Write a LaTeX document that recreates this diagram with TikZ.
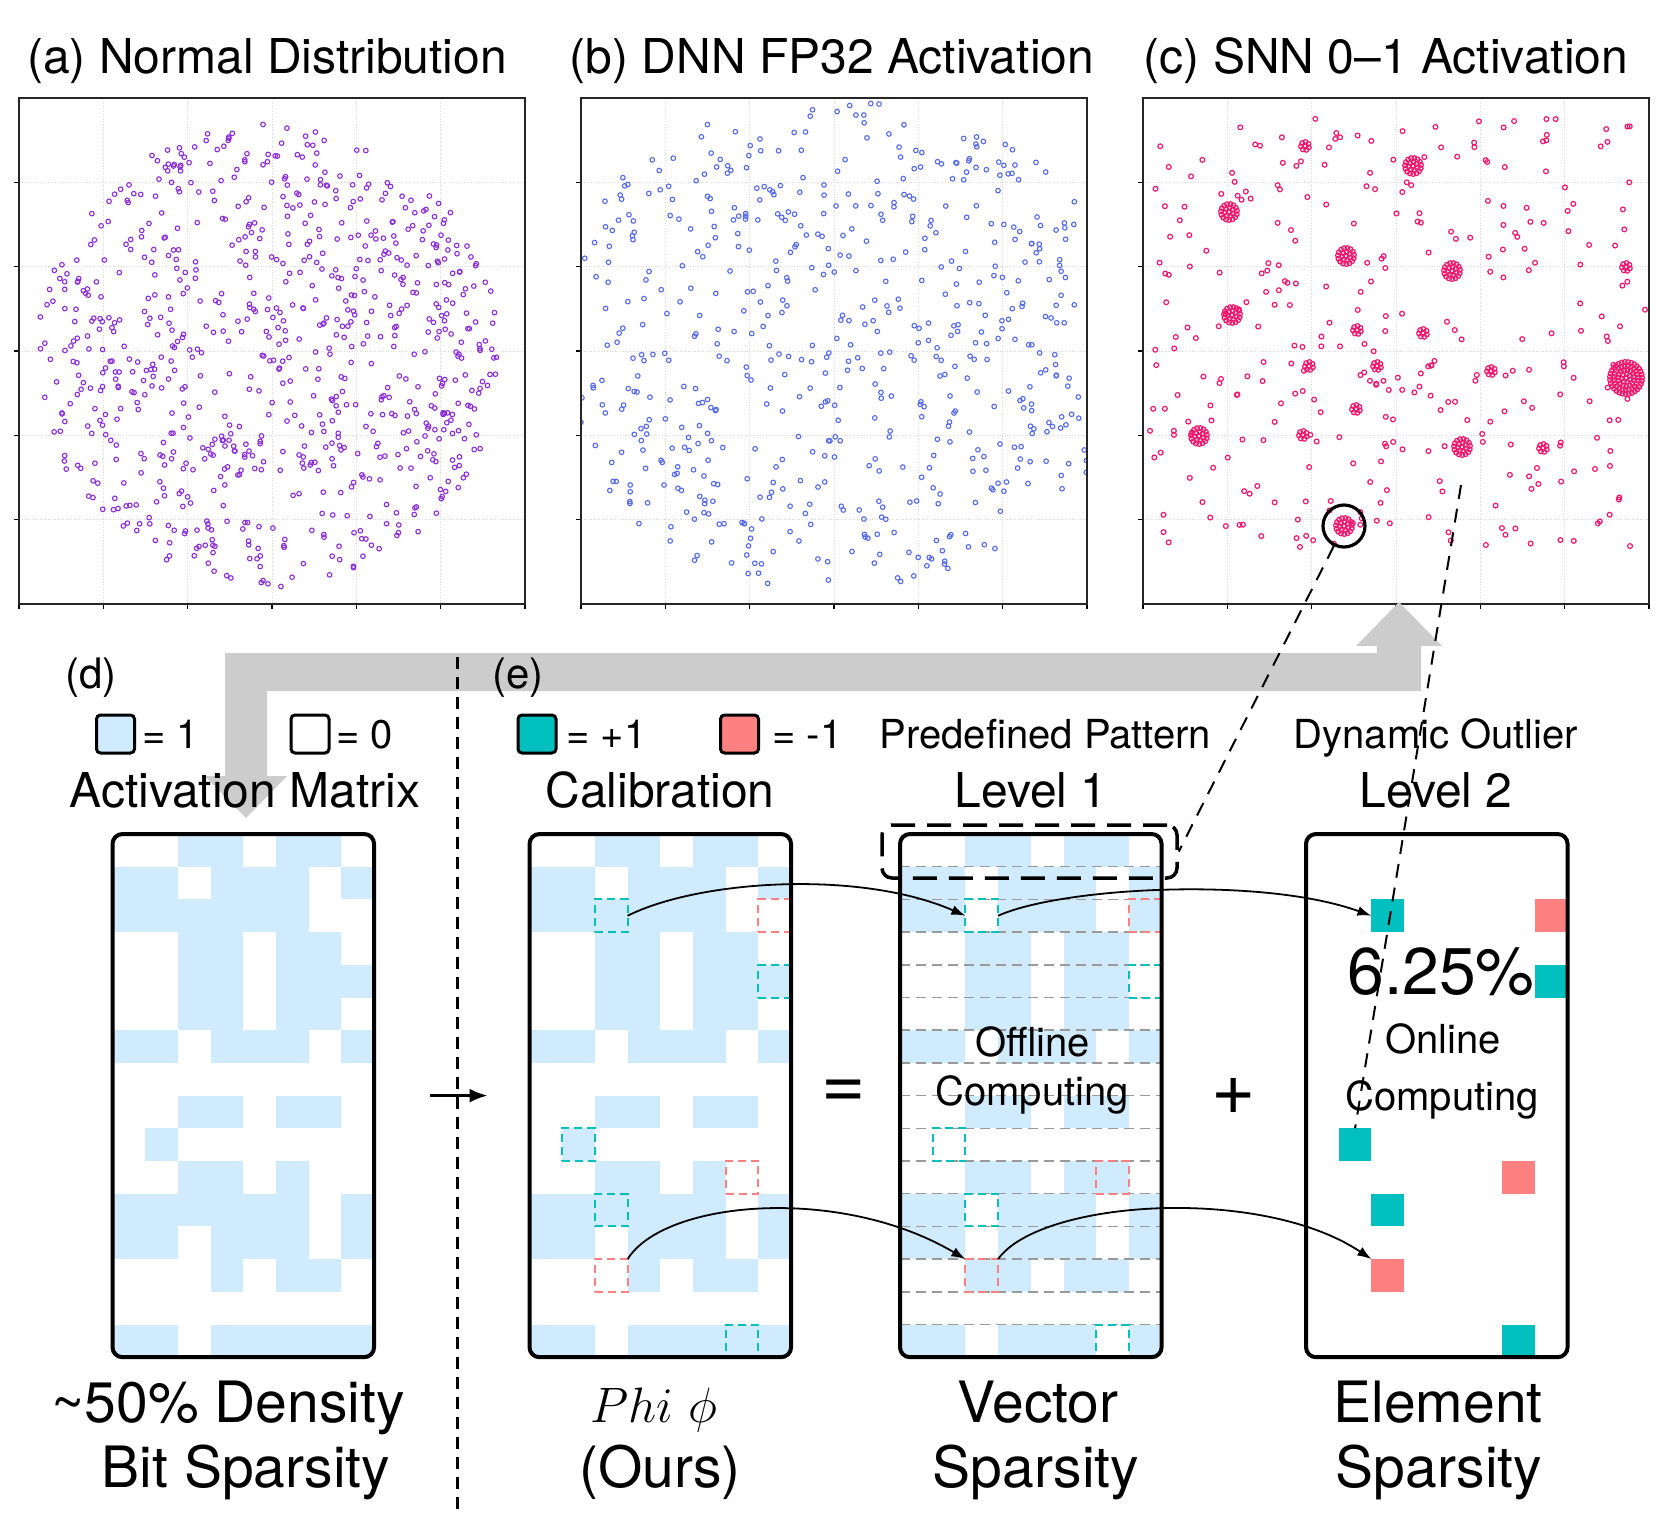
\documentclass[tikz,border=0pt]{standalone}
\usepackage{fontspec}
\setmainfont{TeX Gyre Heros}
\usetikzlibrary{arrows.meta, calc, positioning}

\definecolor{actblue}{RGB}{208,235,253}
\definecolor{poscyan}{RGB}{0,191,191}
\definecolor{negred}{RGB}{255,128,128}
\definecolor{bandgray}{RGB}{204,204,204}
\definecolor{gaussviolet}{RGB}{140,45,220}
\definecolor{dnnblue}{RGB}{85,105,240}
\definecolor{snnpink}{RGB}{240,25,110}

% activation matrix (16 rows x 8 columns) and its predefined row patterns
\newcommand\actrows{{0,0,1,1,0,1,1,0},{1,1,0,1,1,1,0,1},{1,1,1,1,1,1,0,0},{0,0,1,1,0,1,1,0},{0,0,1,1,0,1,1,1},{0,0,1,1,0,1,1,0},{1,1,0,1,1,1,0,1},{0,0,0,0,0,0,0,0},{0,0,1,1,0,1,1,0},{0,1,0,0,0,0,0,0},{0,0,1,1,0,1,0,0},{1,1,1,1,1,1,0,1},{1,1,0,1,1,1,0,1},{0,0,0,1,0,1,1,0},{0,0,0,0,0,0,0,0},{1,1,0,1,1,1,1,1}}
\newcommand\patrows{{0,0,1,1,0,1,1,0},{1,1,0,1,1,1,0,1},{1,1,0,1,1,1,0,1},{0,0,1,1,0,1,1,0},{0,0,1,1,0,1,1,0},{0,0,1,1,0,1,1,0},{1,1,0,1,1,1,0,1},{0,0,0,0,0,0,0,0},{0,0,1,1,0,1,1,0},{0,0,0,0,0,0,0,0},{0,0,1,1,0,1,1,0},{1,1,0,1,1,1,0,1},{1,1,0,1,1,1,0,1},{0,0,1,1,0,1,1,0},{0,0,0,0,0,0,0,0},{1,1,0,1,1,1,0,1}}
\newcommand\outliers{2/2/poscyan, 2/7/negred, 4/7/poscyan, 9/1/poscyan, 10/6/negred, 11/2/poscyan, 13/2/negred, 15/6/poscyan}

\begin{document}
\begin{tikzpicture}[x=0.5pt, y=-0.5pt, >=Latex]
    % Define styles for plots, matrices, cells and texts
    \tikzstyle{plotframe} = [draw=black!85, line width=1pt, minimum size=253pt, inner sep=0pt]
    \tikzstyle{gridline} = [draw=black!15, line width=0.3pt, densely dotted]
    \tikzstyle{gaussdot} = [draw=gaussviolet, line width=0.55pt]
    \tikzstyle{dnndot} = [draw=dnnblue, line width=0.55pt]
    \tikzstyle{snndot} = [draw=snnpink, line width=0.6pt]
    \tikzstyle{actcell} = [fill=actblue]
    \tikzstyle{matframe} = [draw, line width=2pt, rounded corners=5pt, minimum width=130.8pt, minimum height=261.6pt, inner sep=0pt]
    \tikzstyle{dashcell} = [draw, line width=1pt, dash pattern=on 4pt off 2.5pt, minimum size=16.35pt, inner sep=0pt, outer sep=0pt]
    \tikzstyle{fullcell} = [minimum size=16.35pt, inner sep=0pt, outer sep=0pt]
    \tikzstyle{rowsep} = [draw=black!40, line width=0.75pt, dash pattern=on 5pt off 3pt]
    \tikzstyle{legendbox} = [draw, line width=1.5pt, rounded corners=2pt, minimum size=19pt, inner sep=0pt]
    \tikzstyle{link} = [draw, line width=0.9pt, -{Latex[length=7pt, width=5pt]}]
    \tikzstyle{zoomline} = [draw, line width=1pt, dash pattern=on 7pt off 5pt]
    \tikzstyle{title} = [inner sep=0pt, anchor=base, font=\fontsize{24}{28}\selectfont]
    \tikzstyle{smalltext} = [inner sep=0pt, anchor=base, font=\fontsize{20}{24}\selectfont]
    \tikzstyle{bottomtext} = [inner sep=0pt, anchor=base, font=\fontsize{28.5}{33}\selectfont]
    \tikzstyle{bigsign} = [inner sep=0pt, font=\fontsize{38}{40}\selectfont]

    \useasboundingbox (0,0) rectangle (1661,1527);

    % Grid and ticks of the three scatter plots
    \foreach \px in {19, 581, 1143} {
        \foreach \i in {1,...,5} {
            \draw[gridline] ({\px+\i*84.33},98) -- ++(0,506);
            \draw[gridline] (\px,{98+\i*84.33}) -- ++(506,0);
            \draw[line width=0.6pt] (\px,{98+\i*84.33}) -- ++(-5,0);
        }
        \foreach \i in {0,...,6} \draw[line width=0.6pt] ({\px+\i*84.33},604) -- ++(0,5);
    }

    % (a) normal distribution
    \begin{scope}
        \clip (19,98) rectangle (525,604);
        \pgfmathsetseed{17}
        \foreach \idx in {1,...,820} {
            \pgfmathsetmacro{\rdist}{232*sqrt(rnd)}
            \pgfmathsetmacro{\rang}{360*rnd}
            \draw[gaussdot] ({268+\rdist*cos(\rang)},{355+\rdist*sin(\rang)}) circle[radius=1.15pt];
        }
    \end{scope}

    % (b) DNN activation
    \begin{scope}
        \clip (581,98) rectangle (1087,604);
        \pgfmathsetseed{29}
        \foreach \idx in {1,...,650} {
            \pgfmathsetmacro{\rdist}{sqrt(rnd)}
            \pgfmathsetmacro{\rang}{360*rnd}
            \draw[dnndot] ({836+300*\rdist*cos(\rang)},{345+245*\rdist*sin(\rang)}) circle[radius=1.15pt];
        }
    \end{scope}

    % (c) SNN activation: single spikes and repeated clumps
    \begin{scope}
        \clip (1143,98) rectangle (1649,604);
        \pgfmathsetseed{41}
        \foreach \idx in {1,...,320} {
            \pgfmathsetmacro{\ux}{1150+495*rnd}
            \pgfmathsetmacro{\uy}{118+430*rnd}
            \draw[snndot] (\ux,\uy) circle[radius=1.2pt];
        }
        \foreach \cx/\cy/\cl in {1305/146/6, 1413/166/11, 1229/212/8, 1346/256/11, 1452/271/8, 1626/267/5, 1232/315/9, 1357/330/4, 1423/333/5, 1309/366/7, 1377/366/6, 1491/371/7, 1626/378/18, 1356/409/4, 1199/436/11, 1303/435/7, 1462/447/9, 1543/448/5, 1344/526/8} {
            \draw[snndot] (\cx,\cy) circle[radius=1.2pt];
            \pgfmathtruncatemacro{\nring}{\cl/4}
            \foreach \q in {1,...,\nring} {
                \pgfmathtruncatemacro{\nn}{2*pi*4*\q/3.2}
                \foreach \jj in {1,...,\nn} {
                    \draw[snndot] ({\cx+4*\q*cos(360*\jj/\nn+20*\q)},{\cy+4*\q*sin(360*\jj/\nn+20*\q)}) circle[radius=1.2pt];
                }
            }
        }
    \end{scope}

    % Plot frames and titles
    \foreach \px/\pn in {19/a, 581/b, 1143/c} \node[plotframe] (plot\pn) at ({\px+253},351) {};
    \node[draw, circle, line width=1.6pt, minimum size=21pt, inner sep=0pt] (hotspot) at (1344,526) {};
    \coordinate (spikesrc) at (1461,485);

    \node[title] (titlea) at (267,73) {(a) Normal Distribution};
    \node[title] (titleb) at (832,73) {(b) DNN FP32 Activation};
    \node[title] (titlec) at (1386,73) {(c) SNN 0–1 Activation};

    % Big gray arrow from (c) back to the activation matrix
    \fill[bandgray] (1399,602) -- (1442,646) -- (1421,646) -- (1421,691) -- (267,691) -- (267,776) -- (287,776)
        -- (246,818) -- (205,776) -- (225,776) -- (225,653) -- (1377,653) -- (1377,646) -- (1356,646) -- cycle;

    % Separator between (d) and (e)
    \draw[line width=1.2pt, dash pattern=on 6pt off 4pt] (457.6,657) -- (457.6,1515);

    % Legends and headings
    \node[inner sep=0pt, font=\fontsize{21}{25}\selectfont] (labd) at (91,678) {(d)};
    \node[inner sep=0pt, font=\fontsize{21}{25}\selectfont] (labe) at (518,678) {(e)};

    \node[legendbox, fill=actblue] (keyone) at (115.5,734) {};
    \node[smalltext, anchor=base west] at (142,748) {= 1};
    \node[legendbox, fill=white] (keyzero) at (310,734) {};
    \node[smalltext, anchor=base west] at (336,748) {= 0};
    \node[legendbox, fill=poscyan] (keypos) at (537,734) {};
    \node[smalltext, anchor=base west] at (566,748) {= +1};
    \node[legendbox, fill=negred] (keyneg) at (739.5,734) {};
    \node[smalltext, anchor=base west] at (772,748) {= -1};
    \node[smalltext] (predeflabel) at (1045.5,748) {Predefined Pattern};
    \node[smalltext] (dynlabel) at (1436,748) {Dynamic Outlier};

    \node[title] (actlabel) at (245,807) {Activation Matrix};
    \node[title] (callabel) at (660,807) {Calibration};
    \node[title] (lvlone) at (1031,807) {Level 1};
    \node[title] (lvltwo) at (1436,807) {Level 2};

    % Activation matrix (d) and calibration matrix (e)
    \foreach \xo in {112.5, 529.5} {
        \begin{scope}
            \clip[rounded corners=5pt] (\xo,834) rectangle ++(261.6,523.2);
            \foreach \row [count=\ri from 0] in \actrows {
                \foreach \bit [count=\ci from 0] in \row {
                    \ifnum\bit=1\relax
                        \fill[actcell] ({\xo+\ci*32.7},{834+\ri*32.7}) rectangle ++(32.7,32.7);
                    \fi
                }
            }
        \end{scope}
    }

    % Vector sparsity matrix (predefined pattern)
    \begin{scope}
        \clip[rounded corners=5pt] (900,834) rectangle ++(261.6,523.2);
        \foreach \row [count=\ri from 0] in \patrows {
            \foreach \bit [count=\ci from 0] in \row {
                \ifnum\bit=1\relax
                    \fill[actcell] ({900+\ci*32.7},{834+\ri*32.7}) rectangle ++(32.7,32.7);
                \fi
            }
        }
    \end{scope}
    \foreach \ri in {1,...,15} \draw[rowsep] (900,{834+\ri*32.7}) -- ++(261.6,0);

    % Outliers: dashed in (e) and level 1, filled in level 2
    \foreach \ri/\ci/\col in \outliers {
        \node[dashcell, draw=\col] (cal-\ri-\ci) at ({529.5+(\ci+0.5)*32.7},{834+(\ri+0.5)*32.7}) {};
        \node[dashcell, draw=\col] (vec-\ri-\ci) at ({900+(\ci+0.5)*32.7},{834+(\ri+0.5)*32.7}) {};
        \node[fullcell, fill=\col] (elt-\ri-\ci) at ({1306+(\ci+0.5)*32.7},{834+(\ri+0.5)*32.7}) {};
    }

    % Matrix frames
    \foreach \xo/\nm in {112.5/D, 529.5/E, 900/V, 1306/L} \node[matframe] (mat\nm) at ({\xo+130.8},1095.6) {};
    \node[draw, line width=1.75pt, dash pattern=on 12pt off 6pt, rounded corners=5pt, minimum width=147.5pt, minimum height=26.5pt, inner sep=0pt] (predef) at (1029.5,851.5) {};

    % Texts inside the matrices
    \node[smalltext] at (1032.5,1056) {Offline};
    \node[smalltext] at (1032,1105) {Computing};
    \node[inner sep=0pt, anchor=base, font=\fontsize{33}{38}\selectfont] at (1441,994) {6.25\%};
    \node[smalltext] at (1443,1053) {Online};
    \node[smalltext] at (1442,1110) {Computing};

    \node[bigsign] (eqsign) at (844,1094) {=};
    \node[bigsign] (plussign) at (1234,1096) {+};

    % Draw edges
    \draw[line width=1.25pt, shorten <=27pt, shorten >=20pt, -{Latex[length=9pt, width=7pt]}] (matD.east) -- (matE.west);
    \draw[link] (cal-2-2.east) .. controls +(72,-36) and +(-105,-46) .. (vec-2-2.west);
    \draw[link] (vec-2-2.east) .. controls +(62,-28) and +(-111,-40) .. (elt-2-2.west);
    \draw[link] (cal-13-2.north east) .. controls +(37,-59) and +(-125,-74) .. (vec-13-2.north west);
    \draw[link] (vec-13-2.north east) .. controls +(42,-59) and +(-111,-74) .. (elt-13-2.north west);

    \draw[zoomline] (hotspot) -- (predef.east);
    \draw[zoomline] (spikesrc) -- (elt-9-1.north);

    % Bottom captions
    \node[bottomtext] at (228,1422) {\textasciitilde 50\% Density};
    \node[bottomtext] at (246,1487) {Bit Sparsity};
    \node[bottomtext] at (654,1422) {$Phi\ \phi$};
    \node[bottomtext] at (660,1487) {(Ours)};
    \node[bottomtext] at (1038,1422) {Vector};
    \node[bottomtext] at (1036,1487) {Sparsity};
    \node[bottomtext] at (1438,1422) {Element};
    \node[bottomtext] at (1439,1487) {Sparsity};
\end{tikzpicture}
\end{document}
